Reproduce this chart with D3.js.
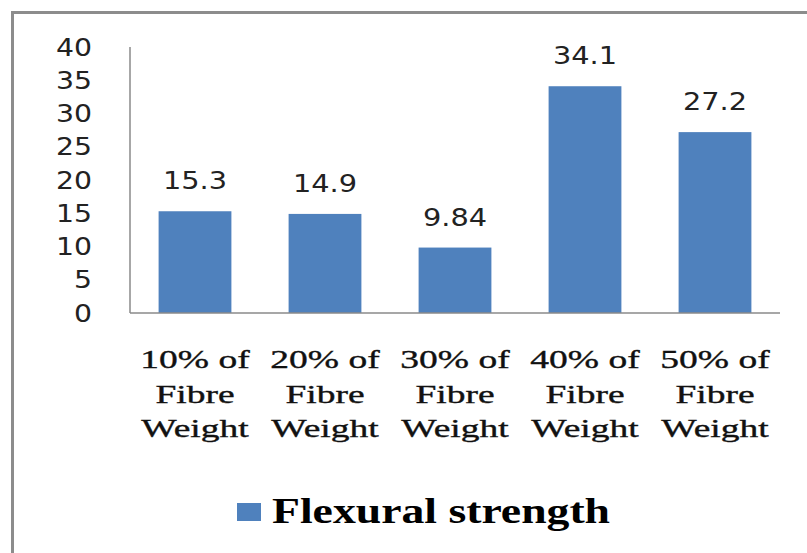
<!DOCTYPE html>
<html>
<head>
<meta charset="utf-8">
<script src="https://cdn.jsdelivr.net/npm/d3@7"></script>
<style>
  html, body { margin: 0; padding: 0; background: #fff; }
  svg { display: block; }
  .serif { font-family: "Liberation Serif", "Times New Roman", serif; }
  .sans { font-family: "DejaVu Sans", Verdana, sans-serif; }
</style>
</head>
<body>
<svg id="chart" width="807" height="553"></svg>
<script>
// Flexural strength by fibre weight fraction
const categories = [
  ["10% of", "Fibre", "Weight"],
  ["20% of", "Fibre", "Weight"],
  ["30% of", "Fibre", "Weight"],
  ["40% of", "Fibre", "Weight"],
  ["50% of", "Fibre", "Weight"]
];
const strengthValues = [15.3, 14.9, 9.84, 34.1, 27.2];
const valueLabels = ["15.3", "14.9", "9.84", "34.1", "27.2"];
const yTicks = [0, 5, 10, 15, 20, 25, 30, 35, 40];
const seriesName = "Flexural strength";

const svg = d3.select("#chart");
const W = 807, H = 553;
const barColor = "#4F81BD";

svg.append("rect").attr("width", W).attr("height", H).attr("fill", "#fff");

// outer frame
svg.append("rect")
  .attr("x", 12.5).attr("y", 12.5)
  .attr("width", 800).attr("height", 546)
  .attr("fill", "none")
  .attr("stroke", "#8c8c8c")
  .attr("stroke-width", 3);

const plot = { left: 130, right: 780, top: 47, bottom: 313 };

const x = d3.scaleBand()
  .domain(d3.range(categories.length))
  .range([plot.left, plot.right])
  .paddingInner(0.44)
  .paddingOuter(0.22);

const y = d3.scaleLinear()
  .domain([0, 40])
  .range([plot.bottom, plot.top]);

// y tick labels (no tick marks)
svg.append("g")
  .selectAll("text")
  .data(yTicks)
  .join("text")
  .attr("class", "sans")
  .attr("transform", d => `translate(92,${y(d)}) scale(1.18,1)`)
  .attr("text-anchor", "end")
  .attr("dy", "0.36em")
  .attr("font-size", 24)
  .attr("fill", "#222")
  .text(d => d);

// bars
svg.append("g")
  .selectAll("rect")
  .data(strengthValues)
  .join("rect")
  .attr("x", (d, i) => x(i))
  .attr("width", x.bandwidth())
  .attr("y", d => y(d))
  .attr("height", d => y(0) - y(d))
  .attr("fill", barColor);

// axis lines
svg.append("line")
  .attr("x1", plot.left).attr("x2", plot.left)
  .attr("y1", plot.top).attr("y2", plot.bottom)
  .attr("stroke", "#8a8a8a").attr("stroke-width", 1.5);
svg.append("line")
  .attr("x1", plot.left).attr("x2", plot.right)
  .attr("y1", plot.bottom).attr("y2", plot.bottom)
  .attr("stroke", "#8a8a8a").attr("stroke-width", 1.5);

// value labels above bars
svg.append("g")
  .selectAll("text")
  .data(strengthValues)
  .join("text")
  .attr("class", "sans")
  .attr("transform", (d, i) => `translate(${x(i) + x.bandwidth() / 2},${y(d) - 22}) scale(1.2,1)`)
  .attr("text-anchor", "middle")
  .attr("font-size", 24)
  .attr("fill", "#222")
  .text((d, i) => valueLabels[i]);

// category labels, three lines each
const catG = svg.append("g");
categories.forEach((lines, i) => {
  const cx = x(i) + x.bandwidth() / 2;
  lines.forEach((t, k) => {
    catG.append("text")
      .attr("class", "serif")
      .attr("transform", `translate(${cx},${368 + k * 34.5}) scale(1.5,1)`)
      .attr("text-anchor", "middle")
      .attr("font-size", 25)
      .attr("fill", "#111")
      .attr("stroke", "#111")
      .attr("stroke-width", 0.35)
      .text(t);
  });
});

// legend
const legend = svg.append("g");
legend.append("rect")
  .attr("x", 237).attr("y", 503)
  .attr("width", 24).attr("height", 18)
  .attr("fill", barColor);
legend.append("text")
  .attr("class", "serif")
  .attr("transform", "translate(272,523) scale(1.27,1)")
  .attr("font-weight", "bold")
  .attr("font-size", 36)
  .attr("fill", "#000")
  .text(seriesName);
</script>
</body>
</html>
